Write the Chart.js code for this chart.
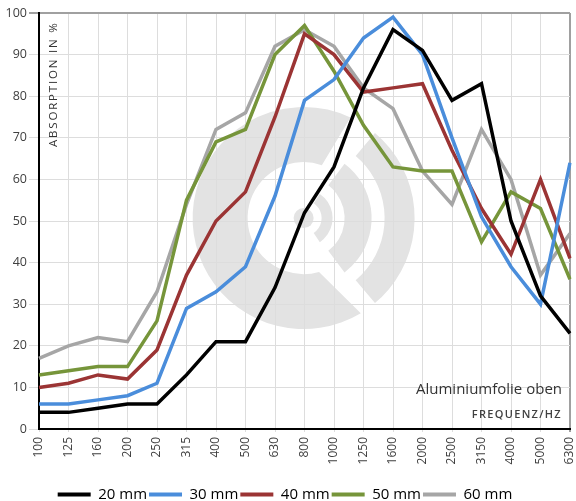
<!DOCTYPE html>
<html>
<head>
<meta charset="utf-8">
<script src="https://cdn.jsdelivr.net/npm/chart.js@4/dist/chart.umd.min.js"></script>
<style>
  html, body { margin: 0; padding: 0; background: #fff; }
  #wrap { width: 576px; height: 501px; position: relative; }
</style>
</head>
<body>
<div id="wrap"><canvas id="c" width="576" height="501"></canvas></div>
<script>
// ---- data ----
const categories = ['100','125','160','200','250','315','400','500','630','800','1000','1250','1600','2000','2500','3150','4000','5000','6300'];
const seriesNames = ['20 mm','30 mm','40 mm','50 mm','60 mm'];
const s20 = [4,4,5,6,6,13,21,21,34,52,63,82,96,91,79,83,50,32,23];
const s30 = [6,6,7,8,11,29,33,39,56,79,84,94,99,90,70,51,39,30,64];
const s40 = [10,11,13,12,19,37,50,57,75,95,90,81,82,83,67,53,42,60,41];
const s50 = [13,14,15,15,26,55,69,72,90,97,86,73,63,62,62,45,57,53,36];
const s60 = [17,20,22,21,33,54,72,76,92,96,92,82,77,62,54,72,60,37,47];
const yTicks = [0,10,20,30,40,50,60,70,80,90,100];
const yTitle = 'ABSORPTION IN %';
const xTitle = 'FREQUENZ/HZ';
const noteText = 'Aluminiumfolie oben';

const colors = ['#000000','#4a8ddb','#9b3434','#76953a','#a6a6a6'];
const allSeries = [s20, s30, s40, s50, s60];

Chart.defaults.font.family = "'Open Sans', sans-serif";

const deg = Math.PI / 180;

const logoPlugin = {
  id: 'logo',
  beforeDraw(chart) {
    const ctx = chart.ctx;
    const xs = chart.scales.x, ys = chart.scales.y;
    const cx = xs.getPixelForValue(8.97);
    const cy = ys.getPixelForValue(50.7);
    ctx.save();
    ctx.fillStyle = '#e3e3e3';
    const R = 111, r = 56;
    ctx.beginPath();
    ctx.arc(cx, cy, R, 59 * deg, 295 * deg, false);
    ctx.arc(cx, cy, r, 289 * deg, 74 * deg, true);
    ctx.closePath();
    ctx.fill();
    ctx.beginPath();
    ctx.arc(cx, cy, 10, 0, Math.PI * 2);
    ctx.fill();
    const arcs = [[18, 29, 56], [41, 68, 53], [81, 111, 50]];
    for (const [a, b, s] of arcs) {
      ctx.beginPath();
      ctx.arc(cx, cy, b, -s * deg, s * deg, false);
      ctx.arc(cx, cy, a, s * deg, -s * deg, true);
      ctx.closePath();
      ctx.fill();
    }
    ctx.restore();
  },
  afterDatasetsDraw(chart) {
    const ctx = chart.ctx;
    const a = chart.chartArea;
    ctx.save();
    ctx.fillStyle = '#333333';
    ctx.textAlign = 'right';
    ctx.textBaseline = 'alphabetic';
    ctx.font = "15px 'Open Sans'";
    ctx.fillText(noteText, a.right - 8, a.bottom - 35);
    ctx.fillStyle = '#404040';
    ctx.font = "600 11px 'Open Sans'";
    ctx.letterSpacing = '1.3px';
    ctx.fillText(xTitle, a.right - 8, a.bottom - 11);
    ctx.fillStyle = '#333333';
    ctx.translate(a.left + 18, a.top + 134);
    ctx.rotate(-Math.PI / 2);
    ctx.textAlign = 'left';
    ctx.font = "11.5px 'Open Sans'";
    ctx.letterSpacing = '1.8px';
    ctx.fillText(yTitle, 0, 0);
    ctx.restore();
  }
};

const datasets = allSeries.map((d, i) => ({
  label: seriesNames[i],
  data: d,
  borderColor: colors[i],
  backgroundColor: colors[i],
  borderWidth: 3.5,
  pointRadius: 0,
  pointHoverRadius: 0,
  tension: 0,
  fill: false
}));

new Chart(document.getElementById('c'), {
  type: 'line',
  data: { labels: categories, datasets },
  plugins: [logoPlugin],
  options: {
    responsive: false,
    animation: false,
    events: [],
    layout: { padding: { top: 13, right: 6, left: 0, bottom: -11 } },
    plugins: {
      tooltip: { enabled: false },
      legend: {
        position: 'bottom',
        labels: {
          usePointStyle: true,
          pointStyle: 'line',
          pointStyleWidth: 33,
          boxHeight: 15,
          padding: 2,
          color: '#000',
          font: { size: 15 },
          generateLabels(chart) {
            return chart.data.datasets.map((ds, i) => ({
              text: ds.label,
              fillStyle: ds.borderColor,
              strokeStyle: ds.borderColor,
              lineWidth: 4,
              pointStyle: 'line',
              hidden: false,
              datasetIndex: i,
              fontColor: '#000'
            }));
          }
        }
      }
    },
    scales: {
      x: {
        type: 'category',
        offset: false,
        ticks: {
          autoSkip: false,
          minRotation: 90,
          maxRotation: 90,
          color: '#404040',
          font: { size: 12 },
          padding: 5
        },
        grid: {
          color: (c) => c.index === categories.length - 1 ? '#a0a0a0' : '#dddddd',
          lineWidth: (c) => c.index === categories.length - 1 ? 2 : 1,
          tickLength: 3
        },
        border: { color: '#000', width: 2 },
        afterFit(scale) { scale.height = 56; scale.paddingLeft = 0; scale.paddingRight = 0; }
      },
      y: {
        min: 0,
        max: 100,
        afterBuildTicks(scale) { scale.ticks = yTicks.map(v => ({ value: v })); },
        ticks: {
          color: '#404040',
          font: { size: 12.5 },
          padding: 2
        },
        grid: {
          color: (c) => c.tick && c.tick.value === 100 ? '#a0a0a0' : '#dddddd',
          lineWidth: (c) => c.tick && c.tick.value === 100 ? 2 : 1,
          tickLength: 10
        },
        border: { color: '#000', width: 2 },
        afterFit(scale) { scale.width = 39; }
      }
    }
  }
});
</script>
</body>
</html>
